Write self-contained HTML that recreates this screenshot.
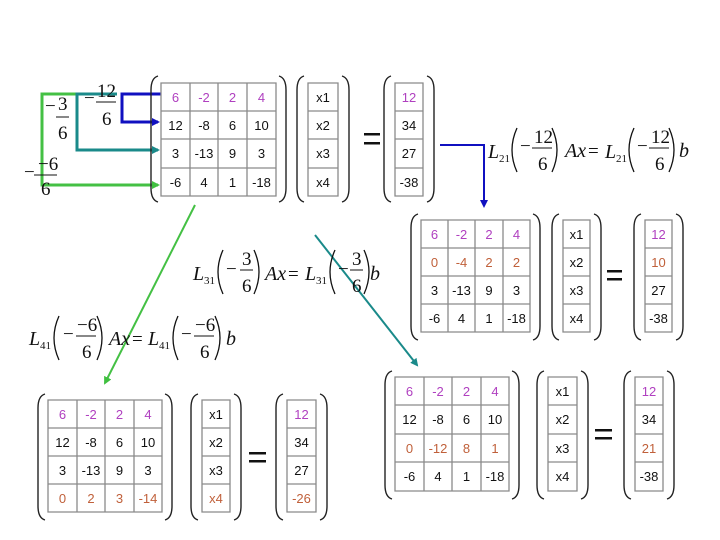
<!DOCTYPE html>
<html><head><meta charset="utf-8"><style>
html,body{margin:0;padding:0;background:#fff;}
svg{display:block}
.c{font-family:"Liberation Sans",sans-serif;font-size:13px;text-anchor:middle;fill:#111}
.m{fill:#b040c0}.o{fill:#c0603a}
.g{fill:none;stroke:#8a8a8a;stroke-width:1.3}
.p{fill:none;stroke:#222;stroke-width:1.4}
.q{fill:none;stroke:#111;stroke-width:1.3}
.f{font-family:"Liberation Serif",serif;font-size:19px;fill:#111}
.fi{font-family:"Liberation Serif",serif;font-style:italic;font-size:20px;fill:#111}
.s{font-family:"Liberation Serif",serif;font-size:11px;fill:#111}
</style></head><body>
<svg width="720" height="540" viewBox="0 0 720 540" xmlns="http://www.w3.org/2000/svg">
<defs>
<marker id="ab" markerWidth="8" markerHeight="8" refX="6" refY="4" orient="auto" markerUnits="userSpaceOnUse"><path d="M0,0 L8,4 L0,8z" fill="#1010c0"/></marker>
<marker id="at" markerWidth="8" markerHeight="8" refX="6" refY="4" orient="auto" markerUnits="userSpaceOnUse"><path d="M0,0 L8,4 L0,8z" fill="#1a8a8a"/></marker>
<marker id="ag" markerWidth="8" markerHeight="8" refX="6" refY="4" orient="auto" markerUnits="userSpaceOnUse"><path d="M0,0 L8,4 L0,8z" fill="#40c040"/></marker>
</defs>

<path d="M42,94 H83 M42,92.5 V185 H158" fill="none" stroke="#44c044" stroke-width="3" marker-end="url(#ag)"/>
<path d="M77,94 H117 M77,92.5 V150 H158" fill="none" stroke="#1a8a8a" stroke-width="3" marker-end="url(#at)"/>
<path d="M161,94 H122 V122 H158" fill="none" stroke="#1010c0" stroke-width="3" marker-end="url(#ab)"/>
<text class="f" x="45" y="112">−</text><text class="f" x="58" y="110">3</text><line x1="56" y1="117" x2="69" y2="117" stroke="#111"/><text class="f" x="58" y="139">6</text>
<text class="f" x="84" y="104">−</text><text class="f" x="97" y="97">12</text><line x1="96" y1="102" x2="116" y2="102" stroke="#111"/><text class="f" x="102" y="125">6</text>
<text class="f" x="24" y="178">−</text><text class="f" x="38" y="170">−6</text><line x1="34" y1="175" x2="57" y2="175" stroke="#111"/><text class="f" x="41" y="195">6</text>

<path d="M440,145 H484 V206" fill="none" stroke="#1010c0" stroke-width="2" marker-end="url(#ab)"/>
<line x1="195" y1="205" x2="105" y2="383" stroke="#44c044" stroke-width="2" marker-end="url(#ag)"/>
<line x1="315" y1="235" x2="417" y2="365" stroke="#1a8a8a" stroke-width="2" marker-end="url(#at)"/>

<!-- formula L21 -->
<g>
<text class="fi" x="488" y="158">L</text><text class="s" x="499" y="162">21</text>
<path class="q" d="M517,128 Q507,150 517,172"/>
<text class="f" x="520" y="152">−</text><text class="f" x="534" y="143">12</text><line x1="532" y1="148" x2="552" y2="148" stroke="#111"/><text class="f" x="538" y="170">6</text>
<path class="q" d="M552,128 Q562,150 552,172"/>
<text class="fi" x="565" y="157">Ax</text><text class="f" x="588" y="157">=</text>
<text class="fi" x="605" y="158">L</text><text class="s" x="616" y="162">21</text>
<path class="q" d="M634,128 Q624,150 634,172"/>
<text class="f" x="637" y="152">−</text><text class="f" x="651" y="143">12</text><line x1="649" y1="148" x2="669" y2="148" stroke="#111"/><text class="f" x="655" y="170">6</text>
<path class="q" d="M669,128 Q679,150 669,172"/>
<text class="fi" x="679" y="157">b</text>
</g>

<!-- formula L31 -->
<g>
<text class="fi" x="193" y="280">L</text><text class="s" x="204" y="284">31</text>
<path class="q" d="M223,250 Q213,272 223,294"/>
<text class="f" x="226" y="275">−</text><text class="f" x="242" y="265">3</text><line x1="240" y1="270" x2="253" y2="270" stroke="#111"/><text class="f" x="242" y="292">6</text>
<path class="q" d="M254,250 Q264,272 254,294"/>
<text class="fi" x="265" y="280">Ax</text><text class="f" x="288" y="280">=</text>
<text class="fi" x="305" y="280">L</text><text class="s" x="316" y="284">31</text>
<path class="q" d="M335,250 Q325,272 335,294"/>
<text class="f" x="338" y="275">−</text><text class="f" x="352" y="265">3</text><line x1="350" y1="270" x2="363" y2="270" stroke="#111"/><text class="f" x="352" y="292">6</text>
<path class="q" d="M364,250 Q374,272 364,294"/>
<text class="fi" x="370" y="280">b</text>
</g>

<!-- formula L41 -->
<g>
<text class="fi" x="29" y="345">L</text><text class="s" x="40" y="349">41</text>
<path class="q" d="M59,316 Q49,338 59,360"/>
<text class="f" x="63" y="340">−</text><text class="f" x="77" y="331">−6</text><line x1="76" y1="336" x2="96" y2="336" stroke="#111"/><text class="f" x="82" y="358">6</text>
<path class="q" d="M97,316 Q107,338 97,360"/>
<text class="fi" x="109" y="345">Ax</text><text class="f" x="132" y="345">=</text>
<text class="fi" x="148" y="345">L</text><text class="s" x="159" y="349">41</text>
<path class="q" d="M178,316 Q168,338 178,360"/>
<text class="f" x="181" y="340">−</text><text class="f" x="195" y="331">−6</text><line x1="194" y1="336" x2="214" y2="336" stroke="#111"/><text class="f" x="200" y="358">6</text>
<path class="q" d="M215,316 Q225,338 215,360"/>
<text class="fi" x="226" y="345">b</text>
</g>

<!-- MATRIX 1 (top) -->
<path class="g" d="M161,83 H276 V196 H161Z M161,111 H276 M161,139 H276 M161,168 H276 M190,83 V196 M218,83 V196 M247,83 V196"/>
<path class="p" d="M158,76 Q151,78 151,90 V188 Q151,200 158,202 M279,76 Q286,78 286,90 V188 Q286,200 279,202"/>
<text class="c m" x="175.5" y="102">6</text><text class="c m" x="204" y="102">-2</text><text class="c m" x="232.5" y="102">2</text><text class="c m" x="261.5" y="102">4</text>
<text class="c" x="175.5" y="130">12</text><text class="c" x="204" y="130">-8</text><text class="c" x="232.5" y="130">6</text><text class="c" x="261.5" y="130">10</text>
<text class="c" x="175.5" y="158">3</text><text class="c" x="204" y="158">-13</text><text class="c" x="232.5" y="158">9</text><text class="c" x="261.5" y="158">3</text>
<text class="c" x="175.5" y="187">-6</text><text class="c" x="204" y="187">4</text><text class="c" x="232.5" y="187">1</text><text class="c" x="261.5" y="187">-18</text>
<path class="g" d="M308,83 H338 V196 H308Z M308,111 H338 M308,139 H338 M308,168 H338"/>
<path class="p" d="M304,76 Q297,78 297,90 V188 Q297,200 304,202 M342,76 Q349,78 349,90 V188 Q349,200 342,202"/>
<text class="c" x="323" y="102">x1</text><text class="c" x="323" y="130">x2</text><text class="c" x="323" y="158">x3</text><text class="c" x="323" y="187">x4</text>
<rect x="364" y="133" width="16" height="2.5" fill="#111"/><rect x="364" y="142" width="16" height="2.5" fill="#111"/>
<path class="g" d="M395,83 H423 V196 H395Z M395,111 H423 M395,139 H423 M395,168 H423"/>
<path class="p" d="M391,76 Q384,78 384,90 V188 Q384,200 391,202 M427,76 Q434,78 434,90 V188 Q434,200 427,202"/>
<text class="c m" x="409" y="102">12</text><text class="c" x="409" y="130">34</text><text class="c" x="409" y="158">27</text><text class="c" x="409" y="187">-38</text>

<!-- MATRIX 2 -->
<path class="g" d="M421,220 H530 V332 H421Z M421,248 H530 M421,276 H530 M421,304 H530 M448,220 V332 M475,220 V332 M503,220 V332"/>
<path class="p" d="M418,214 Q411,216 411,228 V326 Q411,338 418,340 M533,214 Q540,216 540,228 V326 Q540,338 533,340"/>
<text class="c m" x="434.5" y="239">6</text><text class="c m" x="461.5" y="239">-2</text><text class="c m" x="489" y="239">2</text><text class="c m" x="516.5" y="239">4</text>
<text class="c o" x="434.5" y="267">0</text><text class="c o" x="461.5" y="267">-4</text><text class="c o" x="489" y="267">2</text><text class="c o" x="516.5" y="267">2</text>
<text class="c" x="434.5" y="295">3</text><text class="c" x="461.5" y="295">-13</text><text class="c" x="489" y="295">9</text><text class="c" x="516.5" y="295">3</text>
<text class="c" x="434.5" y="323">-6</text><text class="c" x="461.5" y="323">4</text><text class="c" x="489" y="323">1</text><text class="c" x="516.5" y="323">-18</text>
<path class="g" d="M563,220 H590 V332 H563Z M563,248 H590 M563,276 H590 M563,304 H590"/>
<path class="p" d="M559,214 Q552,216 552,228 V326 Q552,338 559,340 M594,214 Q601,216 601,228 V326 Q601,338 594,340"/>
<text class="c" x="576.5" y="239">x1</text><text class="c" x="576.5" y="267">x2</text><text class="c" x="576.5" y="295">x3</text><text class="c" x="576.5" y="323">x4</text>
<rect x="607" y="270" width="15" height="2.5" fill="#111"/><rect x="607" y="278" width="15" height="2.5" fill="#111"/>
<path class="g" d="M645,220 H672 V332 H645Z M645,248 H672 M645,276 H672 M645,304 H672"/>
<path class="p" d="M641,214 Q634,216 634,228 V326 Q634,338 641,340 M676,214 Q683,216 683,228 V326 Q683,338 676,340"/>
<text class="c m" x="658.5" y="239">12</text><text class="c o" x="658.5" y="267">10</text><text class="c" x="658.5" y="295">27</text><text class="c" x="658.5" y="323">-38</text>

<!-- MATRIX 3 -->
<path class="g" d="M48,400 H162 V512 H48Z M48,428 H162 M48,456 H162 M48,484 H162 M77,400 V512 M105,400 V512 M134,400 V512"/>
<path class="p" d="M45,394 Q38,396 38,408 V506 Q38,518 45,520 M165,394 Q172,396 172,408 V506 Q172,518 165,520"/>
<text class="c m" x="62.5" y="419">6</text><text class="c m" x="91" y="419">-2</text><text class="c m" x="119.5" y="419">2</text><text class="c m" x="148" y="419">4</text>
<text class="c" x="62.5" y="447">12</text><text class="c" x="91" y="447">-8</text><text class="c" x="119.5" y="447">6</text><text class="c" x="148" y="447">10</text>
<text class="c" x="62.5" y="475">3</text><text class="c" x="91" y="475">-13</text><text class="c" x="119.5" y="475">9</text><text class="c" x="148" y="475">3</text>
<text class="c o" x="62.5" y="503">0</text><text class="c o" x="91" y="503">2</text><text class="c o" x="119.5" y="503">3</text><text class="c o" x="148" y="503">-14</text>
<path class="g" d="M202,400 H230 V512 H202Z M202,428 H230 M202,456 H230 M202,484 H230"/>
<path class="p" d="M198,394 Q191,396 191,408 V506 Q191,518 198,520 M234,394 Q241,396 241,408 V506 Q241,518 234,520"/>
<text class="c" x="216" y="419">x1</text><text class="c" x="216" y="447">x2</text><text class="c" x="216" y="475">x3</text><text class="c o" x="216" y="503">x4</text>
<rect x="249" y="452" width="17" height="2.5" fill="#111"/><rect x="249" y="460" width="17" height="2.5" fill="#111"/>
<path class="g" d="M287,400 H316 V512 H287Z M287,428 H316 M287,456 H316 M287,484 H316"/>
<path class="p" d="M283,394 Q276,396 276,408 V506 Q276,518 283,520 M320,394 Q327,396 327,408 V506 Q327,518 320,520"/>
<text class="c m" x="301.5" y="419">12</text><text class="c" x="301.5" y="447">34</text><text class="c" x="301.5" y="475">27</text><text class="c o" x="301.5" y="503">-26</text>

<!-- MATRIX 4 -->
<path class="g" d="M395,377 H509 V491 H395Z M395,405 H509 M395,434 H509 M395,462 H509 M424,377 V491 M452,377 V491 M481,377 V491"/>
<path class="p" d="M392,371 Q385,373 385,385 V485 Q385,497 392,499 M512,371 Q519,373 519,385 V485 Q519,497 512,499"/>
<text class="c m" x="409.5" y="396">6</text><text class="c m" x="438" y="396">-2</text><text class="c m" x="466.5" y="396">2</text><text class="c m" x="495" y="396">4</text>
<text class="c" x="409.5" y="424">12</text><text class="c" x="438" y="424">-8</text><text class="c" x="466.5" y="424">6</text><text class="c" x="495" y="424">10</text>
<text class="c o" x="409.5" y="453">0</text><text class="c o" x="438" y="453">-12</text><text class="c o" x="466.5" y="453">8</text><text class="c o" x="495" y="453">1</text>
<text class="c" x="409.5" y="481">-6</text><text class="c" x="438" y="481">4</text><text class="c" x="466.5" y="481">1</text><text class="c" x="495" y="481">-18</text>
<path class="g" d="M548,377 H577 V491 H548Z M548,405 H577 M548,434 H577 M548,462 H577"/>
<path class="p" d="M544,371 Q537,373 537,385 V485 Q537,497 544,499 M581,371 Q588,373 588,385 V485 Q588,497 581,499"/>
<text class="c" x="562.5" y="396">x1</text><text class="c" x="562.5" y="424">x2</text><text class="c" x="562.5" y="453">x3</text><text class="c" x="562.5" y="481">x4</text>
<rect x="595" y="429" width="17" height="2.5" fill="#111"/><rect x="595" y="437" width="17" height="2.5" fill="#111"/>
<path class="g" d="M635,377 H663 V491 H635Z M635,405 H663 M635,434 H663 M635,462 H663"/>
<path class="p" d="M631,371 Q624,373 624,385 V485 Q624,497 631,499 M667,371 Q674,373 674,385 V485 Q674,497 667,499"/>
<text class="c m" x="649" y="396">12</text><text class="c" x="649" y="424">34</text><text class="c o" x="649" y="453">21</text><text class="c" x="649" y="481">-38</text>
</svg>
</body></html>
